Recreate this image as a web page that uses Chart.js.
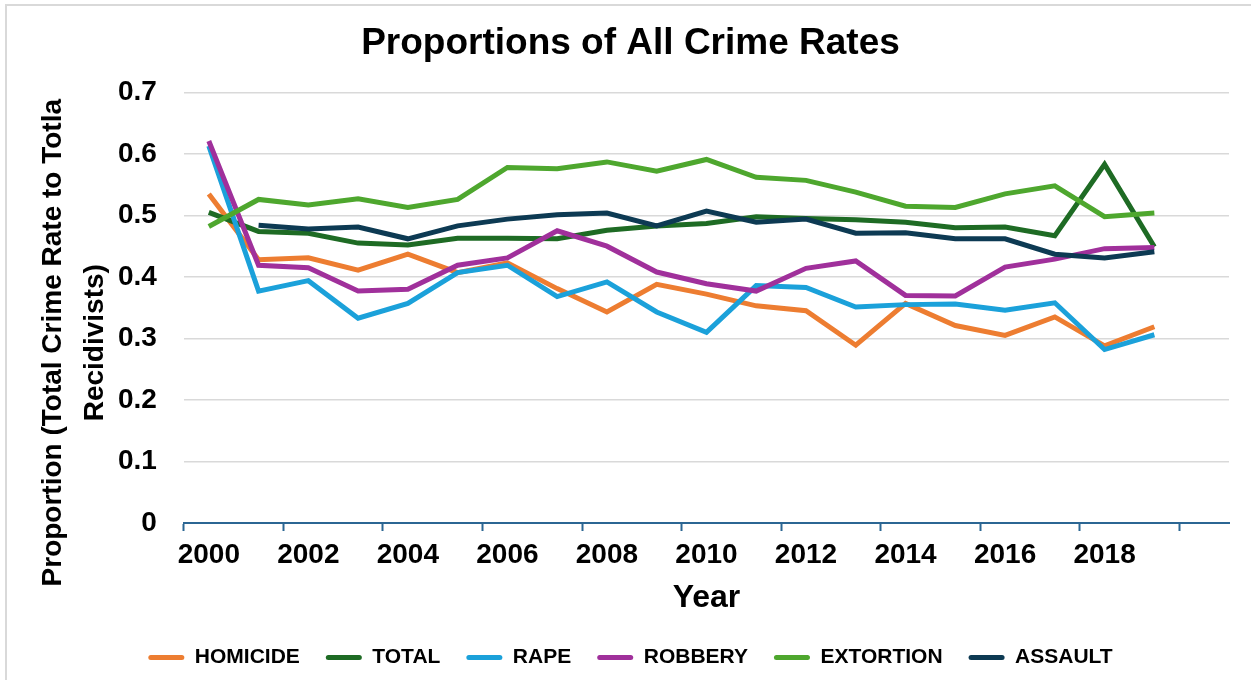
<!DOCTYPE html>
<html>
<head>
<meta charset="utf-8">
<script src="https://cdn.jsdelivr.net/npm/chart.js@4.4.0/dist/chart.umd.min.js"></script>
<style>
  body { margin: 0; background: #fff; overflow: hidden; }
  #frame { position: absolute; left: 5px; top: 4px; width: 1300px; height: 720px;
           border-top: 2px solid #d9d9d9; border-left: 2px solid #d9d9d9; }
  #wrap { position: absolute; left: 0; top: 0; width: 1251px; height: 680px; }
</style>
</head>
<body>
<div id="frame"></div>
<div id="wrap"><canvas id="crime-chart"></canvas></div>
<script>
// categories (last one is an empty slot, like the source sheet)
const years = ['2000','2001','2002','2003','2004','2005','2006','2007','2008','2009',
               '2010','2011','2012','2013','2014','2015','2016','2017','2018','2019',''];

const homicide  = [0.535, 0.428, 0.431, 0.411, 0.437, 0.407, 0.423, 0.381, 0.343, 0.388,
                   0.372, 0.353, 0.345, 0.289, 0.357, 0.321, 0.305, 0.335, 0.288, 0.319];
const total     = [0.505, 0.474, 0.471, 0.455, 0.452, 0.463, 0.463, 0.462, 0.476, 0.483,
                   0.487, 0.498, 0.495, 0.493, 0.489, 0.480, 0.481, 0.467, 0.583, 0.449];
const rape      = [0.613, 0.377, 0.394, 0.333, 0.357, 0.407, 0.419, 0.368, 0.392, 0.343,
                   0.310, 0.386, 0.383, 0.351, 0.355, 0.356, 0.346, 0.358, 0.282, 0.306];
const robbery   = [0.621, 0.419, 0.415, 0.377, 0.380, 0.419, 0.431, 0.475, 0.450, 0.408,
                   0.389, 0.377, 0.414, 0.426, 0.370, 0.369, 0.416, 0.429, 0.446, 0.448];
const extortion = [0.482, 0.526, 0.517, 0.527, 0.513, 0.526, 0.578, 0.576, 0.587, 0.572,
                   0.591, 0.562, 0.557, 0.538, 0.515, 0.513, 0.535, 0.548, 0.498, 0.504];
const assault   = [null, 0.484, 0.478, 0.481, 0.462, 0.483, 0.494, 0.501, 0.504, 0.483,
                   0.507, 0.489, 0.494, 0.471, 0.472, 0.462, 0.462, 0.437, 0.431, 0.441];

// y title lines (trailing spaces push the text down a bit, like the original)
const yTitle = ['Proportion (Total Crime Rate to Totla         ', 'Recidivists)         '];

const FONT = "'Liberation Sans', Arial, sans-serif";
const AXIS_BLUE = '#2b6693';

function series(label, data, color, order) {
    return {
        label: label,
        data: data,
        borderColor: color,
        backgroundColor: color,
        borderWidth: 5,
        pointRadius: 0,
        tension: 0,
        fill: false,
        spanGaps: false,
        order: order  // later series drawn on top, like excel
    };
}

const ctx = document.getElementById('crime-chart');
new Chart(ctx, {
    type: 'line',
    data: {
        labels: years,
        datasets: [
            series('HOMICIDE', homicide, '#ed7d31', 6),
            series('TOTAL', total, '#1e6b24', 5),
            series('RAPE', rape, '#1ba1da', 4),
            series('ROBBERY', robbery, '#a0309b', 3),
            series('EXTORTION', extortion, '#4ea72e', 2),
            series('ASSAULT', assault, '#0d3a53', 1)
        ]
    },
    options: {
        responsive: true,
        maintainAspectRatio: false,
        animation: false,
        layout: { padding: { left: 32, right: 22, top: 0, bottom: 2 } },
        plugins: {
            title: {
                display: true,
                text: 'Proportions of All Crime Rates',
                color: '#000',
                font: { family: FONT, size: 37, weight: 'bold' },
                padding: { top: 22, bottom: 26 }
            },
            legend: {
                position: 'bottom',
                labels: {
                    color: '#000',
                    font: { family: FONT, size: 21, weight: 'bold' },
                    boxWidth: 36,
                    boxHeight: 5,
                    padding: 26,
                    useBorderRadius: true,
                    borderRadius: 2.5,
                    sort: (a, b) => a.datasetIndex - b.datasetIndex,
                    generateLabels: function(chart) {
                        let items = Chart.defaults.plugins.legend.labels.generateLabels(chart);
                        items.forEach(function(it) {
                            it.fillStyle = it.strokeStyle;
                            it.lineWidth = 0;
                        });
                        return items;
                    }
                }
            },
            tooltip: { enabled: false }
        },
        scales: {
            x: {
                offset: true,
                grid: {
                    offset: true,
                    drawOnChartArea: false,
                    tickLength: 8,
                    tickWidth: 2,
                    tickColor: (c) => (c.index % 2 === 0 ? AXIS_BLUE : 'rgba(0,0,0,0)')
                },
                border: { display: true, color: AXIS_BLUE, width: 2 },
                ticks: {
                    autoSkip: false,
                    maxRotation: 0,
                    padding: 7,
                    color: '#000',
                    font: { family: FONT, size: 28, weight: 'bold' },
                    callback: function(val, i) { return i % 2 === 0 ? this.getLabelForValue(val) : ''; }
                },
                title: {
                    display: true,
                    text: 'Year',
                    color: '#000',
                    font: { family: FONT, size: 32, weight: 'bold' },
                    padding: { top: 0, bottom: 4 }
                }
            },
            y: {
                min: 0,
                max: 0.7,
                ticks: {
                    stepSize: 0.1,
                    padding: 27,
                    color: '#000',
                    font: { family: FONT, size: 28, weight: 'bold' },
                    callback: (v) => (Math.round(v * 10) / 10).toString()
                },
                grid: {
                    drawTicks: false,
                    lineWidth: 1.5,
                    color: (c) => (c.tick && c.tick.value === 0 ? 'rgba(0,0,0,0)' : '#d9d9d9')
                },
                border: { display: false },
                title: {
                    display: true,
                    text: yTitle,
                    color: '#000',
                    font: { family: FONT, size: 28, weight: 'bold', lineHeight: 1.5 },
                    padding: { top: 0, bottom: -25 }
                }
            }
        }
    }
});
</script>
</body>
</html>
